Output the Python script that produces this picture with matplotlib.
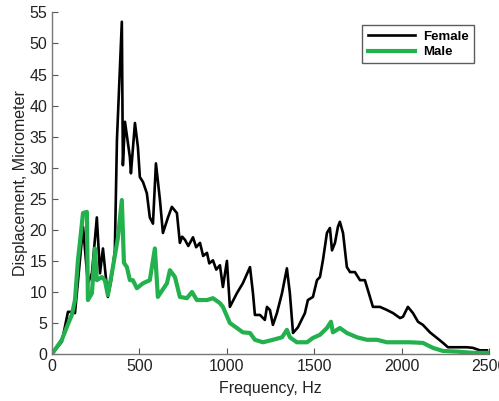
import matplotlib
matplotlib.use('Agg')
import matplotlib.pyplot as plt

plt.rcParams['font.family'] = ['Liberation Sans', 'DejaVu Sans']

# Female response (black)
female_hz = [0, 57, 92, 114, 132, 160, 178, 206, 229, 257, 275, 292, 320, 340, 360,
             372, 400, 406, 418, 446, 452, 475, 492, 503, 521, 543, 560, 578, 595,
             618, 635, 664, 686, 715, 732, 745, 761, 780, 807, 825, 847, 865, 887, 900,
             921, 940, 961, 978, 1001,
             1018, 1058, 1092, 1133, 1150, 1161, 1190, 1218, 1230, 1247, 1264, 1287,
             1316, 1344, 1361, 1379, 1407, 1447, 1464, 1493, 1516, 1533, 1550, 1573,
             1590, 1602, 1619, 1636, 1647, 1665, 1687, 1705, 1733, 1762, 1790, 1819,
             1836, 1876, 1916, 1951, 1991, 2008, 2036, 2065, 2094, 2122, 2162, 2202,
             2237, 2265, 2317, 2374, 2408, 2448, 2488]
female_um = [0, 2.0, 6.8, 6.8, 6.6, 15.0, 20.5, 11.4, 13.0, 22.0, 13.0, 17.0, 9.2, 12.0, 16.7,
             34.5, 53.5, 30.4, 37.4, 31.7, 29.1, 37.2, 33.3, 28.5, 27.7, 25.9, 22.0, 21.0, 30.7,
             24.8, 19.5, 22.0, 23.7, 22.7, 17.9, 18.9, 18.4, 17.4, 18.8, 17.2, 17.9, 15.8, 16.3, 14.6,
             15.1, 13.6, 14.3, 10.8, 15.0,
             7.6, 9.8, 11.4, 14.0, 9.8, 6.3, 6.3, 5.5, 7.6, 7.1, 4.7, 6.6,
             9.8, 13.8, 9.8, 3.4, 4.3, 6.6, 8.7, 9.2, 11.9, 12.4, 15.1, 19.5,
             20.3, 16.7, 17.9, 20.5, 21.3, 19.5, 14.0, 13.2, 13.2, 11.9, 11.9, 9.2,
             7.6, 7.6, 7.1, 6.6, 5.8, 6.0, 7.6, 6.6, 5.2, 4.7, 3.5, 2.6,
             1.8, 1.1, 1.1, 1.1, 1.0, 0.6, 0.6]

# Male response (green)
male_hz = [0, 57, 86, 114, 132, 149, 160, 178, 200, 206, 229, 246, 257, 286, 303, 320,
           349, 378, 400, 412, 429, 446, 463, 486, 521, 560, 589, 606, 658, 675, 704,
           732, 772, 801, 829, 887, 921, 961, 978, 1018, 1058, 1092, 1133, 1161, 1207,
           1264, 1316, 1344, 1361, 1401, 1459, 1493, 1533, 1573, 1596, 1607, 1647, 1687,
           1745, 1802, 1859, 1916, 1973, 2048, 2122, 2179, 2237, 2317, 2408, 2488]
male_um = [0, 2.3, 4.4, 6.3, 8.7, 15.1, 17.9, 22.7, 22.9, 8.7, 9.8, 17.0, 11.9, 12.4, 11.9, 9.5,
           14.0, 18.8, 24.8, 14.7, 14.0, 11.9, 11.9, 10.6, 11.4, 11.9, 17.0, 9.2, 11.4, 13.5, 12.4,
           9.2, 9.0, 10.0, 8.7, 8.7, 9.0, 8.2, 7.6, 5.0, 4.2, 3.5, 3.4, 2.3, 1.9,
           2.3, 2.7, 3.9, 2.7, 1.9, 1.9, 2.6, 3.1, 4.2, 5.2, 3.5, 4.2, 3.4,
           2.7, 2.3, 2.3, 1.9, 1.9, 1.9, 1.8, 1.0, 0.5, 0.4, 0.2, 0.2]

fig = plt.figure(figsize=(4.99, 4.01), dpi=100)
ax = fig.add_axes([0.104, 0.117, 0.876, 0.852])

ax.plot(female_hz, female_um, color='black', lw=1.9, label='Female')
ax.plot(male_hz, male_um, color='#22b14c', lw=3.0, label='Male')

ax.set_xlim(0, 2500)
ax.set_ylim(0, 55)
ax.set_xticks(range(0, 2501, 500))
ax.set_yticks(range(0, 56, 5))
ax.tick_params(direction='in', labelsize=11.5, length=4, color='#555555', labelcolor='#222222')
for s in ['top', 'right']:
    ax.spines[s].set_visible(False)
for s in ['left', 'bottom']:
    ax.spines[s].set_color('#777777')
    ax.spines[s].set_linewidth(1.0)

ax.set_xlabel('Frequency, Hz', fontsize=11.5, color='#222222', labelpad=5)
ax.set_ylabel('Displacement, Micrometer', fontsize=11.5, color='#222222', labelpad=1)

leg = ax.legend(loc='upper right', bbox_to_anchor=(0.966, 0.963), borderaxespad=0,
                fancybox=False, edgecolor='#333333', prop={'weight': 'bold', 'size': 9.5},
                handlelength=3.6, borderpad=0.4, labelspacing=0.25, handletextpad=0.6)
leg.get_frame().set_linewidth(1.0)

plt.savefig('out.png', dpi=100)
